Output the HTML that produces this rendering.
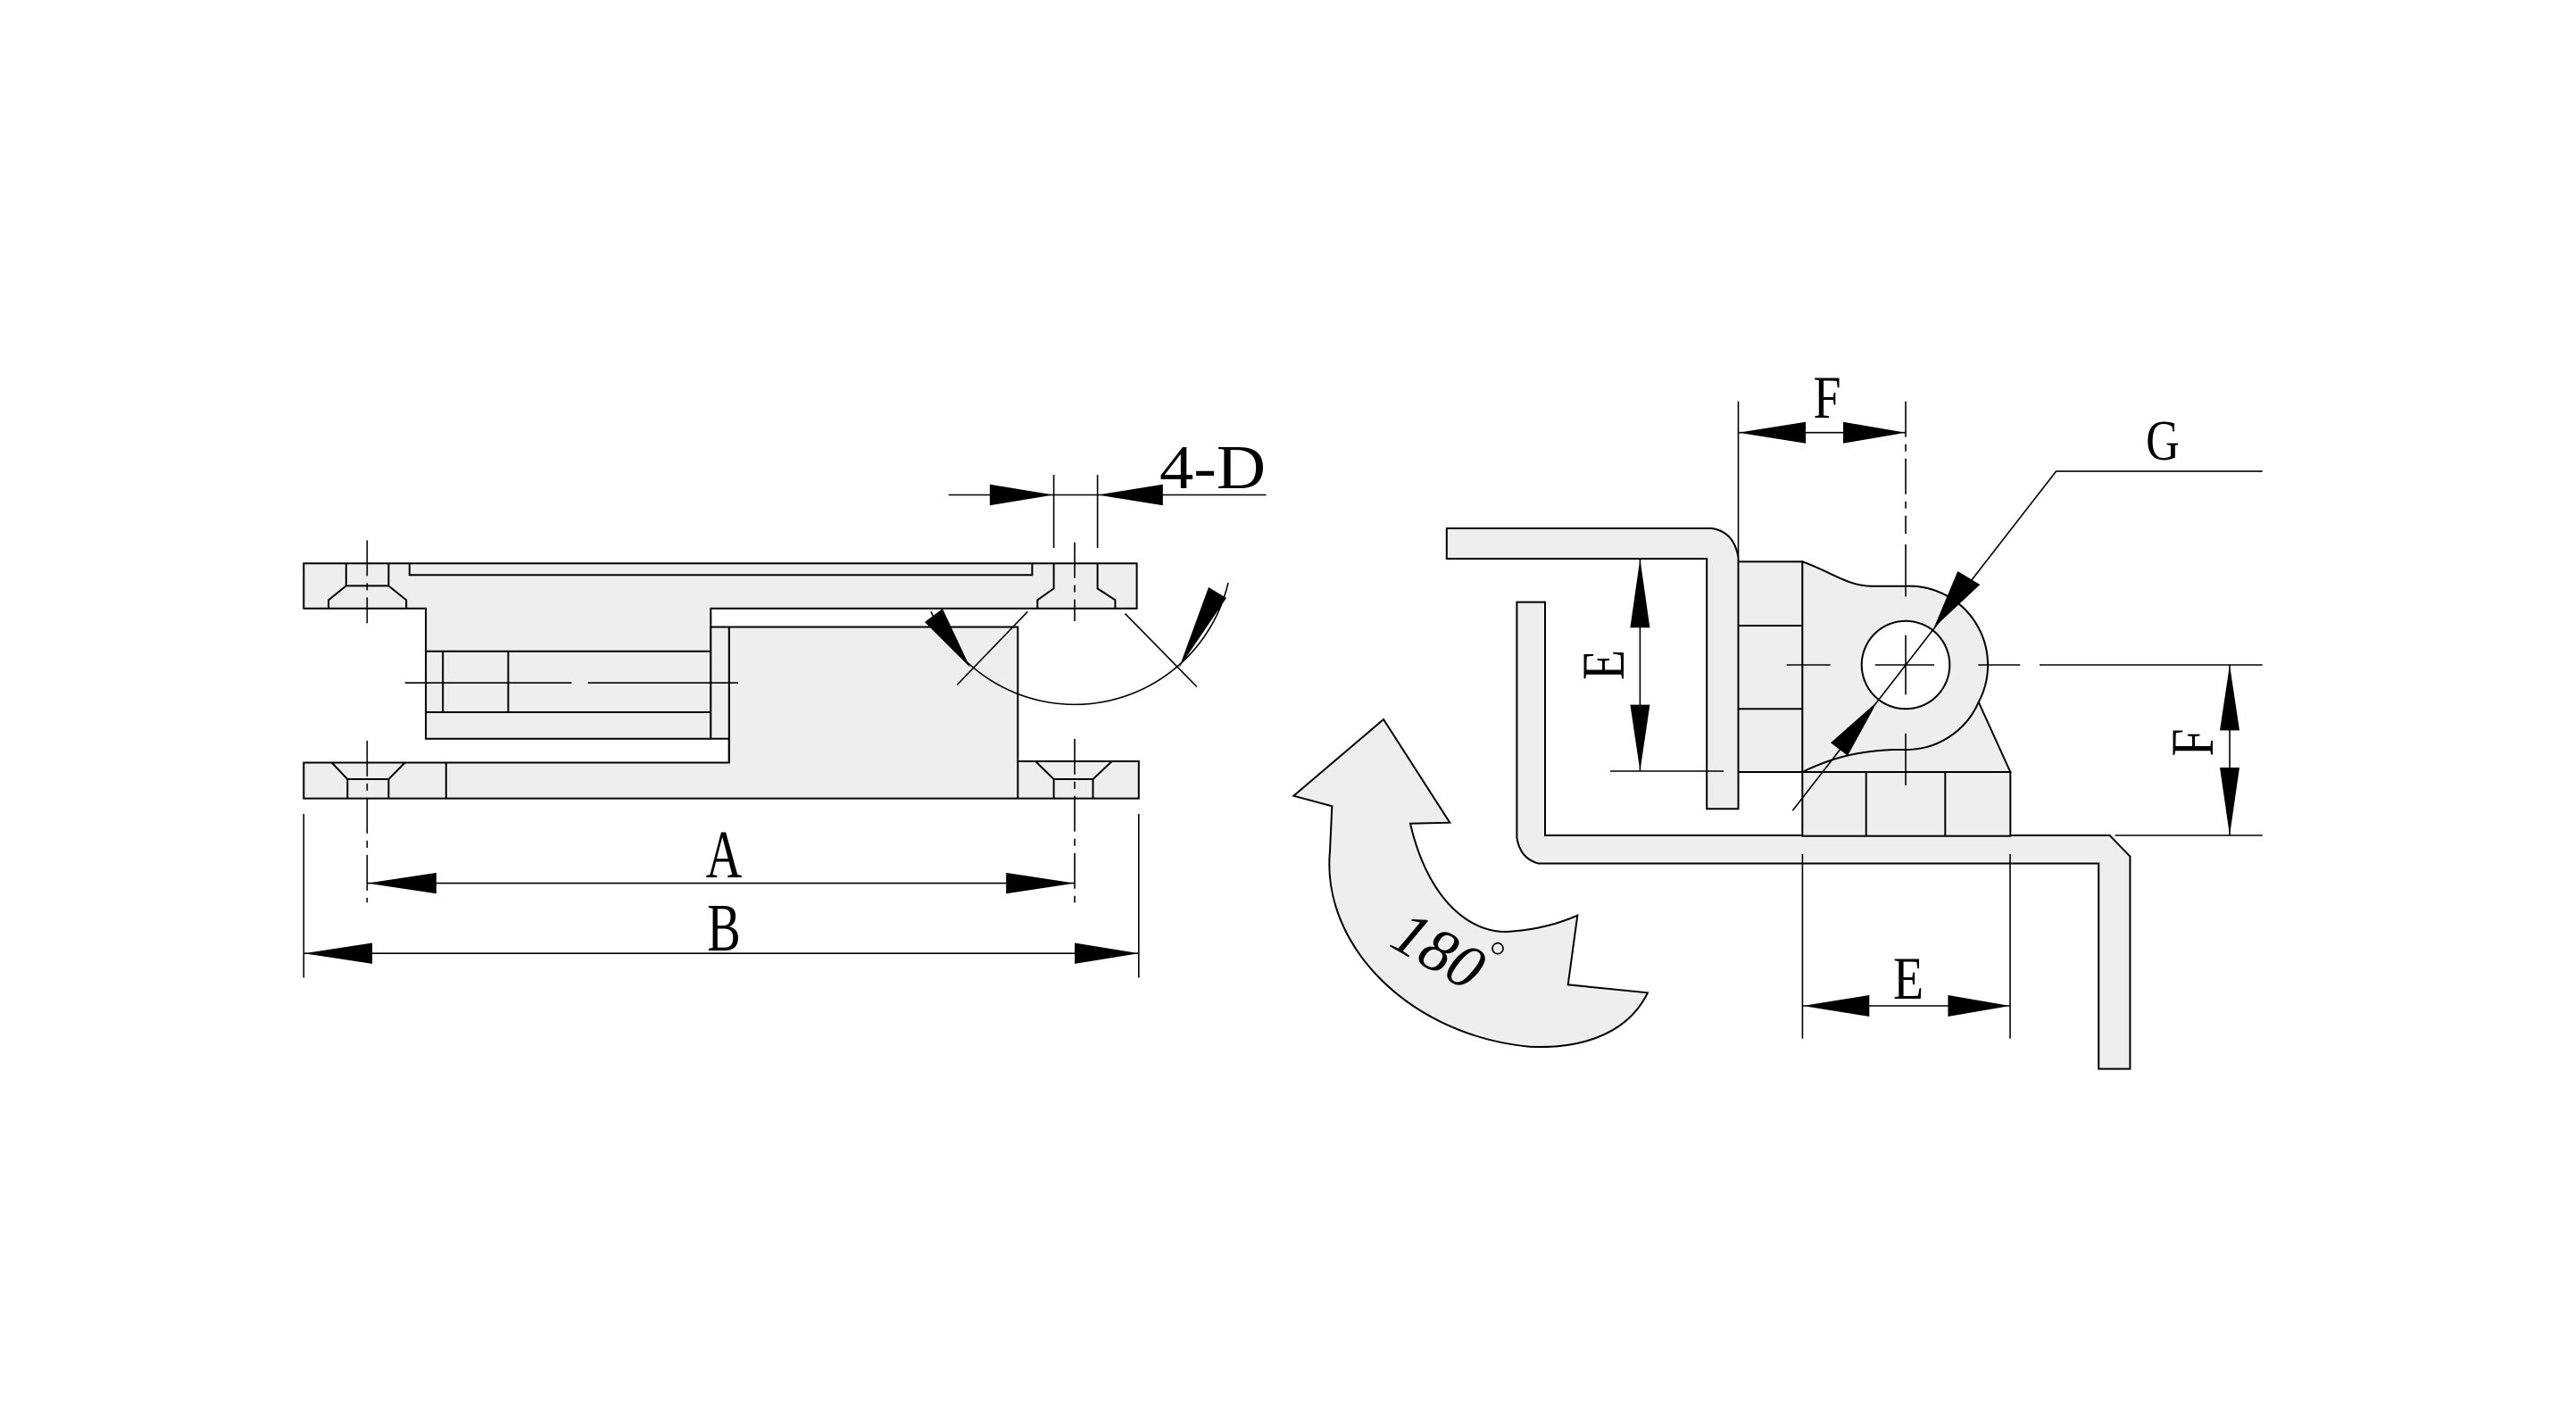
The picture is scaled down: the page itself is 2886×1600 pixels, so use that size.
<!DOCTYPE html>
<html><head><meta charset="utf-8"><style>
html,body{margin:0;padding:0;background:#fff;}
svg{display:block;}
text{font-family:"Liberation Serif",serif;fill:#000;}
</style></head><body>
<svg width="2886" height="1600" viewBox="0 0 2886 1600" xmlns="http://www.w3.org/2000/svg">
<g fill="#eeeeee" stroke="#000" stroke-width="2" stroke-linejoin="miter">
<polygon points="340.3,631.3 1273.6,631.3 1273.6,681.8 796.3,681.8 796.3,827.7 477.1,827.7 477.1,681.8 340.3,681.8"/>
<polygon points="340.3,854.5 816.8,854.5 816.8,702.5 1140.3,702.5 1140.3,853 1275.8,853 1275.8,894.6 340.3,894.6"/>
<rect x="796.3" y="702.5" width="20.5" height="125.2"/>
</g>
<g fill="none" stroke="#000" stroke-width="2">
<polyline points="458.8,631.3 458.8,644.3 1156.4,644.3 1156.4,631.3"/>
<line x1="477.1" y1="729.7" x2="796.3" y2="729.7"/>
<line x1="477.1" y1="798" x2="796.3" y2="798"/>
<line x1="496.2" y1="729.7" x2="496.2" y2="798"/>
<line x1="569.4" y1="729.7" x2="569.4" y2="798"/>
<line x1="816.8" y1="827.7" x2="816.8" y2="854.5"/>
<polyline points="387.8,631.3 387.8,656.4 368.1,672.3 368.1,681.8"/>
<polyline points="435.4,631.3 435.4,656.4 455.2,672.3 455.2,681.8"/>
<line x1="387.8" y1="656.4" x2="435.4" y2="656.4"/>
<polyline points="1180.6,631.3 1180.6,659.4 1162.3,672.3 1162.3,681.8"/>
<polyline points="1229.6,631.3 1229.6,659.4 1249.4,672.3 1249.4,681.8"/>
<polyline points="371.7,854.5 389.3,873 389.3,894.6"/>
<polyline points="453.7,854.5 435.4,873 435.4,894.6"/>
<line x1="389.3" y1="873" x2="435.4" y2="873"/>
<line x1="499.8" y1="854.5" x2="499.8" y2="894.6"/>
<polyline points="1160.1,853 1180.6,873 1180.6,894.6"/>
<polyline points="1245.7,853 1224.5,873 1224.5,894.6"/>
<line x1="1180.6" y1="873" x2="1224.5" y2="873"/>
<line x1="1140.3" y1="853" x2="1140.3" y2="894.6"/>
</g>
<g fill="none" stroke="#000" stroke-width="1.6" stroke-dasharray="40 8 8 8">
<line x1="411.3" y1="605.4" x2="411.3" y2="698.2"/>
<line x1="1204" y1="607.6" x2="1204" y2="696"/>
<line x1="411.3" y1="829.9" x2="411.3" y2="1011.2"/>
<line x1="1204" y1="827.7" x2="1204" y2="1011.2"/>
</g>
<g stroke="#000" stroke-width="1.6">
<line x1="453.7" y1="765.1" x2="640.4" y2="765.1"/>
<line x1="658.7" y1="765.1" x2="827" y2="765.1"/>
<line x1="340.3" y1="911.9" x2="340.3" y2="1095.4"/>
<line x1="1275.8" y1="911.9" x2="1275.8" y2="1095.4"/>
<line x1="1180.6" y1="532" x2="1180.6" y2="614"/>
<line x1="1229.6" y1="532" x2="1229.6" y2="614"/>
<line x1="411.3" y1="989.6" x2="1204" y2="989.6"/>
<line x1="340.3" y1="1068.2" x2="1275.8" y2="1068.2"/>
<line x1="1062.7" y1="554.5" x2="1418.5" y2="554.5"/>
<path d="M1043,685.3 A176.6,176.6 0 0 0 1376,652.9" fill="none"/>
<line x1="1151.3" y1="685.3" x2="1072.3" y2="767.3"/>
<line x1="1260.4" y1="687.4" x2="1340.9" y2="769.5"/>
</g>
<g fill="#000" stroke="none">
<polygon points="411.3,989.6 488.9,977.9 488.9,1001.3"/>
<polygon points="1204,989.6 1127.2,977.9 1127.2,1001.3"/>
<polygon points="340.3,1068.2 417.1,1056.5 417.1,1079.9"/>
<polygon points="1275.8,1068.2 1204,1056.5 1204,1079.9"/>
<polygon points="1180.6,554.5 1108.9,542.8 1108.9,566.2"/>
<polygon points="1229.6,554.5 1302.8,542.8 1302.8,566.2"/>
<polygon points="1086.9,747.9 1036,697 1056,682"/>
<polygon points="1321.1,747.9 1354,658 1374,670"/>
</g>
<text transform="translate(811,983) scale(0.85,1.15)" font-size="66" text-anchor="middle">A</text>
<text transform="translate(811,1065) scale(0.85,1.15)" font-size="66" text-anchor="middle">B</text>
<text transform="translate(1299,547) scale(1,1.12)" font-size="62" textLength="119" lengthAdjust="spacingAndGlyphs">4-D</text>

<g fill="#eeeeee" stroke="#000" stroke-width="2">
<path d="M1620.8,592 L1918,592 Q1943,596 1947.5,625 L1947.5,906.3 L1912.2,906.3 L1912.2,626 L1620.8,626 Z"/>
<path d="M1699.4,674.6 L1731,674.6 L1731,936 L2363.6,936 L2386.4,959.6 L2386.4,1197.6 L2351.2,1197.6 L2351.2,967.5 L1723.6,967.5 Q1703,962 1699.4,938.7 Z"/>
<rect x="1947.5" y="629.3" width="71.9" height="235.7"/>
<path d="M2019.3,629.3 C2050,640 2070,656.7 2096.7,656.7 L2135,656.7 A88.5,88.5 0 0 1 2216.7,786.7 L2252.3,865 L2019.3,865 Z"/>
<rect x="2019.3" y="865" width="233" height="71.7"/>
</g>
<g fill="none" stroke="#000" stroke-width="2">
<path d="M2216.7,786.7 A88.5,88.5 0 0 1 2135,840 L2120,840 C2070,842 2040,855 2019.3,865"/>
<circle cx="2135" cy="745" r="49.3" fill="#fff"/>
<line x1="1947.5" y1="701" x2="2019.3" y2="701"/>
<line x1="1947.5" y1="794.3" x2="2019.3" y2="794.3"/>
<line x1="2090.7" y1="865" x2="2090.7" y2="936.7"/>
<line x1="2179.3" y1="865" x2="2179.3" y2="936.7"/>
</g>
<g stroke="#000" stroke-width="1.6" fill="none">
<line x1="2001.7" y1="745" x2="2050.7" y2="745"/>
<line x1="2100.7" y1="745" x2="2167" y2="745"/>
<line x1="2216.3" y1="745" x2="2263.3" y2="745"/>
<line x1="2285" y1="745" x2="2534.7" y2="745"/>
<line x1="2135" y1="711.7" x2="2135" y2="778.3"/>
<line x1="2135" y1="821.7" x2="2135" y2="880"/>
<line x1="2135" y1="610" x2="2135" y2="668.3"/>
<line x1="2135" y1="449.7" x2="2135" y2="598" stroke-dasharray="40 8 8 8"/>
<line x1="1947.5" y1="449.7" x2="1947.5" y2="629.3"/>
<line x1="1947.5" y1="484.7" x2="2135" y2="484.7"/>
<polyline points="2534.7,528.1 2303.5,528.1 2008.3,908.3"/>
<line x1="1837.4" y1="626" x2="1837.4" y2="864"/>
<line x1="1804" y1="864" x2="1931" y2="864"/>
<line x1="2498" y1="745" x2="2498" y2="936"/>
<line x1="2369.5" y1="936" x2="2534.7" y2="936"/>
<line x1="2019.4" y1="957" x2="2019.4" y2="1163.6"/>
<line x1="2252" y1="957" x2="2252" y2="1163.6"/>
<line x1="2019.4" y1="1127" x2="2252" y2="1127"/>
</g>
<g fill="#000" stroke="none">
<polygon points="1947.5,484.7 2023,472.7 2023,496.7"/>
<polygon points="2135,484.7 2065,472.7 2065,496.7"/>
<polygon points="2166.7,703.3 2193.3,640 2218.3,655"/>
<polygon points="2103.3,786 2051,832.3 2070,846.7"/>
<polygon points="1837.4,626 1826.4,703.3 1848.4,703.3"/>
<polygon points="1837.4,864 1826.4,789.6 1848.4,789.6"/>
<polygon points="2498,745 2487,818.4 2509,818.4"/>
<polygon points="2498,936 2487,860 2509,860"/>
<polygon points="2019.4,1127 2094.3,1115 2094.3,1139"/>
<polygon points="2252,1127 2182.4,1115 2182.4,1139"/>
</g>
<text transform="translate(2047,468) scale(0.9,1.1)" font-size="62" text-anchor="middle">F</text>
<text transform="translate(2423,515) scale(0.9,1.1)" font-size="58" text-anchor="middle">G</text>
<text transform="translate(2138,1119) scale(0.9,1.1)" font-size="62" text-anchor="middle">E</text>
<text transform="translate(1819,745) rotate(-90) scale(0.9,1.1)" font-size="62" text-anchor="middle">E</text>
<text transform="translate(2479,832) rotate(-90) scale(0.9,1.1)" font-size="62" text-anchor="middle">F</text>

<path d="M1449.3,891.7 L1550,806 L1624.3,921.7 L1580,922.7 C1600,1010 1650,1050 1696.7,1043.3 Q1735,1040 1767.3,1025.7 L1756.7,1103.3 L1846,1112.3 C1820,1165 1760,1175 1713.3,1172.7 C1580,1160 1480,1060 1490,953.3 L1492.3,903.3 Z" fill="#eeeeee" stroke="#000" stroke-width="2"/>
<text transform="translate(1600,1085) rotate(30)" font-size="70" font-style="italic" text-anchor="middle">180</text>
<circle cx="1678" cy="1062.7" r="6" fill="none" stroke="#000" stroke-width="1.6"/>
</svg>
</body></html>
